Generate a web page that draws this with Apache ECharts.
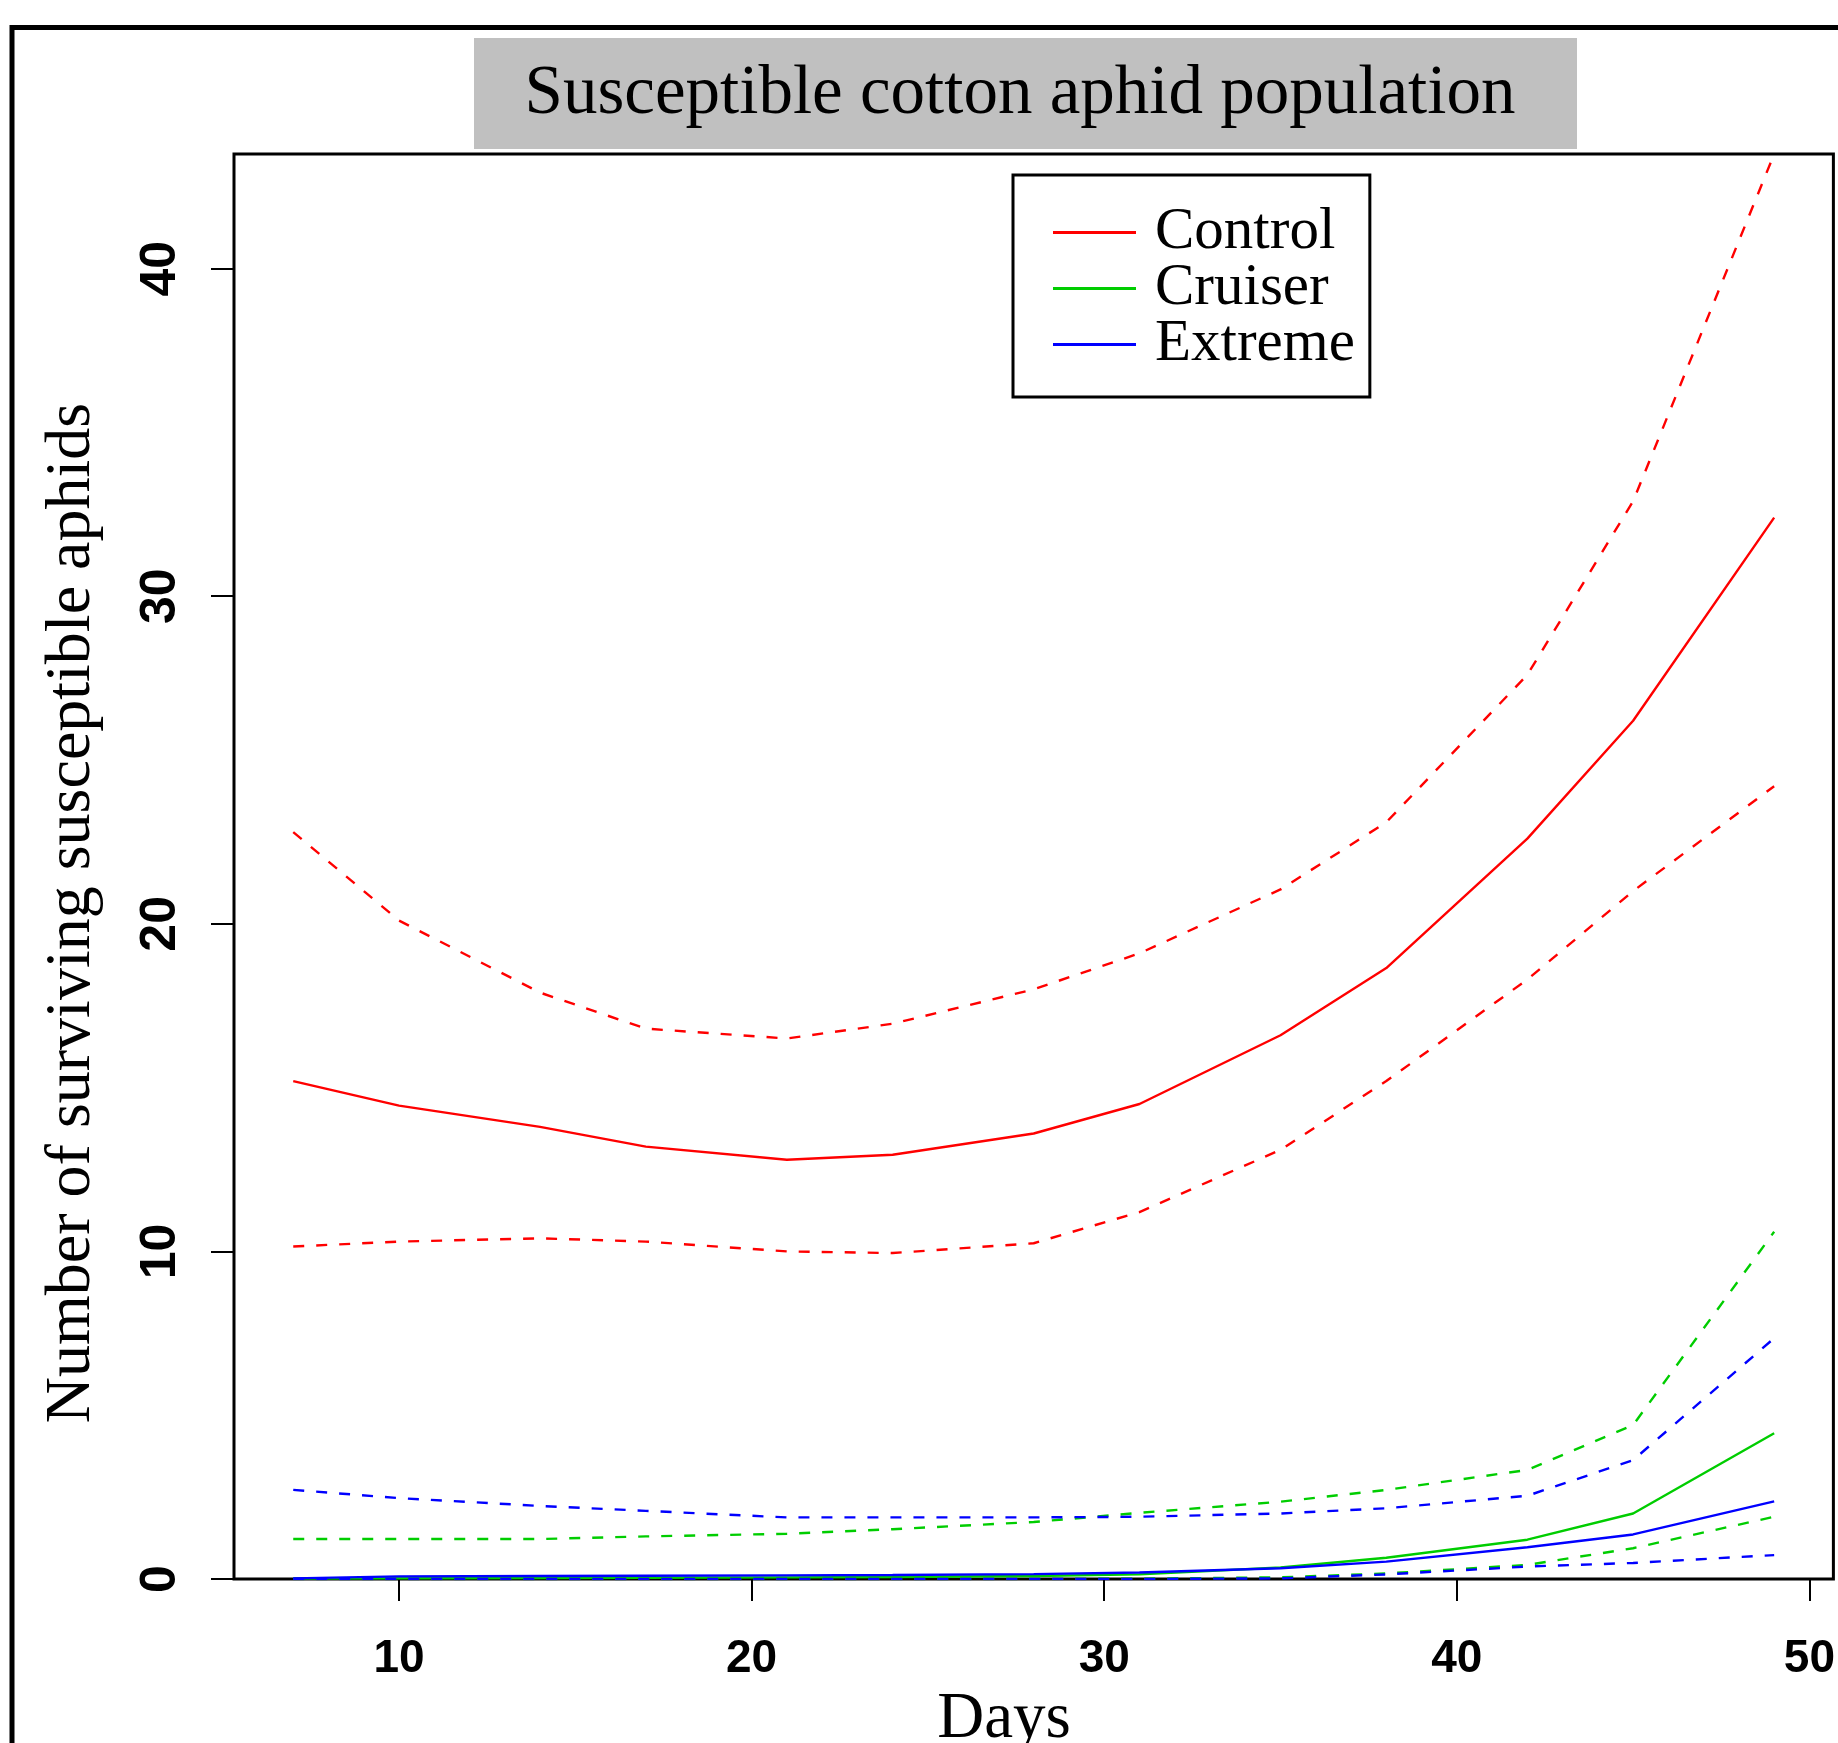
<!DOCTYPE html>
<html>
<head>
<meta charset="utf-8">
<script src="https://cdn.jsdelivr.net/npm/echarts@6.0.0/dist/echarts.min.js"></script>
<style>
  html, body { margin: 0; padding: 0; background: #fff; }
  #aphid-chart { width: 1838px; height: 1743px; }
</style>
</head>
<body>
<div id="aphid-chart"></div>
<script>
// sampling days and fitted numbers of susceptible aphids (mean, lower, upper)
var days = [7, 10, 14, 17, 21, 24, 28, 31, 35, 38, 42, 45, 49];

var controlMean  = [15.2, 14.45, 13.8, 13.2, 12.8, 12.95, 13.6, 14.5, 16.6, 18.65, 22.6, 26.2, 32.4];
var controlLower = [10.15, 10.3, 10.4, 10.3, 10.0, 9.95, 10.25, 11.2, 13.1, 15.2, 18.3, 21.0, 24.2];
var controlUpper = [22.8, 20.1, 17.9, 16.8, 16.5, 16.95, 18.0, 19.1, 21.05, 23.1, 27.6, 32.9, 43.5];

var cruiserMean  = [0.01, 0.02, 0.03, 0.04, 0.05, 0.06, 0.09, 0.14, 0.35, 0.65, 1.2, 2.0, 4.45];
var cruiserLower = [0, 0, 0, 0, 0, 0, 0, 0.01, 0.05, 0.17, 0.43, 0.94, 1.9];
var cruiserUpper = [1.22, 1.22, 1.22, 1.3, 1.38, 1.52, 1.74, 2.02, 2.36, 2.72, 3.33, 4.7, 10.6];

var extremeMean  = [0.02, 0.08, 0.09, 0.1, 0.11, 0.12, 0.15, 0.2, 0.33, 0.53, 0.97, 1.36, 2.37];
var extremeLower = [0, 0, 0, 0, 0, 0, 0, 0, 0.02, 0.14, 0.38, 0.49, 0.73];
var extremeUpper = [2.72, 2.47, 2.23, 2.08, 1.88, 1.88, 1.88, 1.9, 2.0, 2.16, 2.54, 3.63, 7.35];

var xTicks = [10, 20, 30, 40, 50];
var yTicks = [0, 10, 20, 30, 40];

var chartDom = document.getElementById('aphid-chart');
var myChart = echarts.init(chartDom);

function pairs(vals) {
  return days.map(function (d, i) { return [d, vals[i]]; });
}

function curve(name, vals, color, dashed) {
  return {
    name: name,
    type: 'line',
    data: pairs(vals),
    symbol: 'none',
    showSymbol: false,
    silent: true,
    lineStyle: { color: color, width: 2.4, type: dashed ? [11, 12] : 'solid' },
    itemStyle: { color: color }
  };
}

var red = '#ff0000', green = '#00cd00', blue = '#0000ff';

var option = {
  animation: false,
  backgroundColor: '#fff',
  grid: {
    left: 234, top: 154, width: 1600, height: 1425,
    show: true, borderColor: '#000', borderWidth: 3
  },
  xAxis: {
    type: 'value',
    min: 5.32,
    max: 50.68,
    axisLine: { show: false },
    splitLine: { show: false },
    axisTick: { show: true, length: 22, customValues: xTicks, lineStyle: { color: '#000', width: 2 } },
    axisLabel: {
      customValues: xTicks,
      margin: 57,
      color: '#000',
      fontFamily: 'Liberation Sans',
      fontWeight: 'bold',
      fontSize: 46
    }
  },
  yAxis: {
    type: 'value',
    min: 0,
    max: 43.5,
    axisLine: { show: false },
    splitLine: { show: false },
    axisTick: { show: true, length: 23, customValues: yTicks, lineStyle: { color: '#000', width: 2 } },
    axisLabel: {
      customValues: yTicks,
      rotate: 90,
      margin: 48,
      color: '#000',
      fontFamily: 'Liberation Sans',
      fontWeight: 'bold',
      fontSize: 50
    }
  },
  legend: {
    orient: 'vertical',
    left: 1013,
    top: 175,
    data: ['Control', 'Cruiser', 'Extreme'],
    selectedMode: false,
    icon: 'rect',
    itemWidth: 83,
    itemHeight: 3,
    itemGap: -3,
    padding: [28, 15, 23, 40],
    borderColor: '#000',
    borderWidth: 3,
    backgroundColor: '#fff',
    textStyle: {
      fontFamily: 'Liberation Serif',
      fontSize: 59,
      color: '#000',
      padding: [0, 0, 0, 14]
    }
  },
  graphic: [
    {
      type: 'rect',
      shape: { x: 12, y: 27.5, width: 1900, height: 1800 },
      style: { fill: 'none', stroke: '#000', lineWidth: 5 },
      silent: true
    },
    {
      type: 'rect',
      shape: { x: 474, y: 38, width: 1103, height: 111 },
      style: { fill: '#c0c0c0' },
      silent: true
    },
    {
      type: 'text',
      x: 1020, y: 95,
      style: {
        text: 'Susceptible cotton aphid population',
        fontFamily: 'Liberation Serif', fontSize: 69, fill: '#000',
        align: 'center', verticalAlign: 'middle'
      }
    },
    {
      type: 'text',
      x: 72, y: 913,
      rotation: Math.PI / 2,
      style: {
        text: 'Number of surviving susceptible aphids',
        fontFamily: 'Liberation Serif', fontSize: 64, fill: '#000',
        align: 'center', verticalAlign: 'middle'
      }
    },
    {
      type: 'text',
      x: 1004, y: 1720,
      style: {
        text: 'Days',
        fontFamily: 'Liberation Serif', fontSize: 65, fill: '#000',
        align: 'center', verticalAlign: 'middle'
      }
    }
  ],
  series: [
    curve('Control', controlMean, red, false),
    curve('Control lower', controlLower, red, true),
    curve('Control upper', controlUpper, red, true),
    curve('Cruiser', cruiserMean, green, false),
    curve('Cruiser lower', cruiserLower, green, true),
    curve('Cruiser upper', cruiserUpper, green, true),
    curve('Extreme', extremeMean, blue, false),
    curve('Extreme lower', extremeLower, blue, true),
    curve('Extreme upper', extremeUpper, blue, true)
  ]
};

option && myChart.setOption(option);
</script>
</body>
</html>
